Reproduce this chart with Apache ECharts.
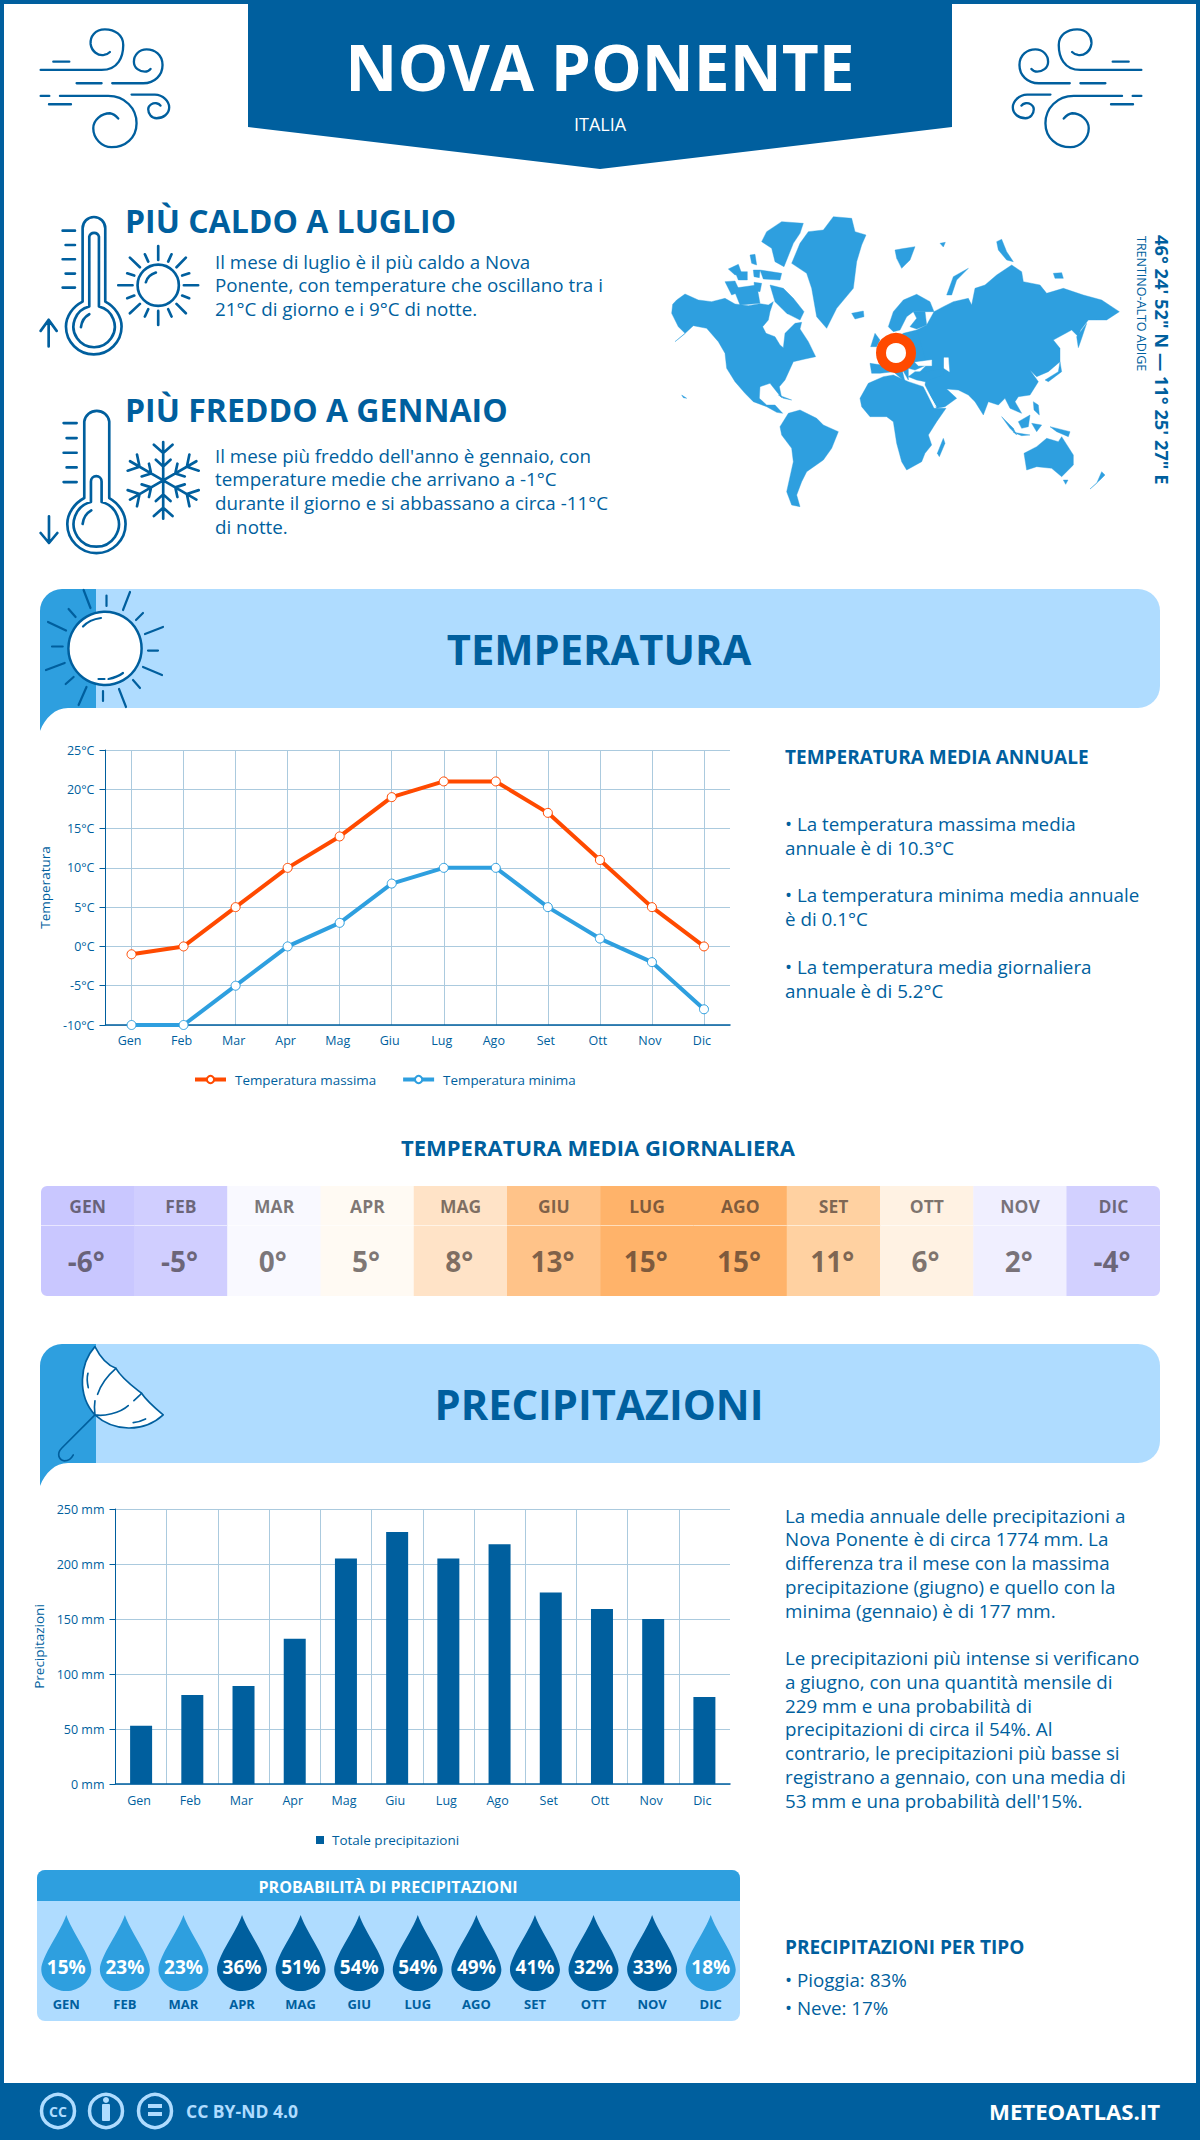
<!DOCTYPE html>
<html>
<head>
<meta charset="utf-8">
<title>Nova Ponente</title>
<script src="https://cdn.jsdelivr.net/npm/echarts@6/dist/echarts.min.js"></script>
<style>
	html, body { margin: 0; padding: 0; background: #fff; }
	#main { width: 1200px; height: 2140px; }
</style>
</head>
<body>
<div id="main"></div>
<script>
'use strict';
var months = ['Gen', 'Feb', 'Mar', 'Apr', 'Mag', 'Giu', 'Lug', 'Ago', 'Set', 'Ott', 'Nov', 'Dic'];
var monthsUpper = ['GEN', 'FEB', 'MAR', 'APR', 'MAG', 'GIU', 'LUG', 'AGO', 'SET', 'OTT', 'NOV', 'DIC'];
var tempMax = [-1, 0, 5, 10, 14, 19, 21, 21, 17, 11, 5, 0];
var tempMin = [-10, -10, -5, 0, 3, 8, 10, 10, 5, 1, -2, -8];
var tempDaily = [-6, -5, 0, 5, 8, 13, 15, 15, 11, 6, 2, -4];
var precipitation = [53, 81, 89, 132, 205, 229, 205, 218, 174, 159, 150, 79];
var rainChance = [15, 23, 23, 36, 51, 54, 54, 49, 41, 32, 33, 18];

var hotText = ['Il mese di luglio è il più caldo a Nova', 'Ponente, con temperature che oscillano tra i', '21°C di giorno e i 9°C di notte.'];
var coldText = ['Il mese più freddo dell\'anno è gennaio, con', 'temperature medie che arrivano a -1°C', 'durante il giorno e si abbassano a circa -11°C', 'di notte.'];
var tempNotes = ['• La temperatura massima media', 'annuale è di 10.3°C', '• La temperatura minima media annuale', 'è di 0.1°C', '• La temperatura media giornaliera', 'annuale è di 5.2°C'];
var tempNotesY = [824, 848, 895, 919, 967, 991];
var rainNotes = ['La media annuale delle precipitazioni a', 'Nova Ponente è di circa 1774 mm. La', 'differenza tra il mese con la massima', 'precipitazione (giugno) e quello con la', 'minima (gennaio) è di 177 mm.', 'Le precipitazioni più intense si verificano', 'a giugno, con una quantità mensile di', '229 mm e una probabilità di', 'precipitazioni di circa il 54%. Al', 'contrario, le precipitazioni più basse si', 'registrano a gennaio, con una media di', '53 mm e una probabilità dell\'15%.'];
var rainNotesY = [1516, 1539, 1563, 1587, 1611, 1658, 1682, 1706, 1729, 1753, 1777, 1801];

var DARK = '#005f9e', MID = '#2e9fdf', LIGHT = '#afdcff', HOT = '#ff4a00', GRID = '#abcade';
var FONT = '"Open Sans", sans-serif';

// colours of the daily temperature strip, by value
var stripPieces = [
	{value: -6, color: '#c9c7ff'}, {value: -5, color: '#d0ceff'}, {value: -4, color: '#d2d0ff'},
	{value: 0, color: '#f9f9ff'}, {value: 2, color: '#f0efff'}, {value: 5, color: '#fffaf3'},
	{value: 6, color: '#fff2e3'}, {value: 8, color: '#ffe3c7'}, {value: 11, color: '#ffd1a1'},
	{value: 13, color: '#ffc389'}, {value: 15, color: '#ffb36a'}
];

var DROP = 'path://M25,0 C30,18 50,48 50,63 C50,76 38,88 25,88 C12,88 0,76 0,63 C0,48 20,18 25,0 Z';

var graphics = [];
var shapeCount = 0;

// the graphic component has no plain path type, so each outline gets its own shape class
function pathType(d) {
	var name = 'trace' + (shapeCount++);
	echarts.graphic.registerShape(name, echarts.graphic.extendPath(d));
	return name;
}

function text(str, x, y, size, opt) {
	opt = opt || {};
	graphics.push({
		type: 'text', x: x, y: y, rotation: opt.rotation || 0, z: 5,
		style: {
			text: str,
			font: (opt.weight || 'normal') + ' ' + size + 'px ' + FONT,
			fill: opt.fill || DARK,
			textAlign: opt.align || 'left',
			textVerticalAlign: 'middle'
		}
	});
}

function block(x, y, w, h, fill, r) {
	graphics.push({type: 'rect', z: 1, shape: {x: x, y: y, width: w, height: h, r: r || 0}, style: {fill: fill}});
}

function area(d, fill) {
	graphics.push({type: pathType(d), z: 1, style: {fill: fill}});
}

// icon traced in the coordinates of a 3x crop, ox/oy is the crop corner
function icon(d, ox, oy, opt) {
	opt = opt || {};
	graphics.push({
		type: pathType(d), x: ox, y: oy, scaleX: opt.sx || 1 / 3, scaleY: opt.sy || 1 / 3, z: opt.z || 3,
		style: {
			fill: opt.fill || 'none',
			stroke: opt.stroke === undefined ? DARK : opt.stroke,
			lineWidth: opt.lw || 8,
			lineCap: 'round', lineJoin: 'round'
		}
	});
}

function snowflake(cx, cy) {
	var arm = [[0, -115, 0, 0], [-28, -107, 0, -82], [28, -107, 0, -82], [-22, -62, 0, -42], [22, -62, 0, -42]];
	var d = '';
	for (var k = 0; k < 6; k++) {
		var c = Math.cos(k * Math.PI / 3), s = Math.sin(k * Math.PI / 3);
		arm.forEach(function (a) {
			d += 'M' + (cx + a[0] * c - a[1] * s) + ',' + (cy + a[0] * s + a[1] * c) +
				' L' + (cx + a[2] * c - a[3] * s) + ',' + (cy + a[2] * s + a[3] * c) + ' ';
		});
	}
	return d;
}

// page frame, footer and header
block(0, 0, 1200, 4, DARK);
block(0, 0, 4, 2140, DARK);
block(1196, 0, 4, 2140, DARK);
block(0, 2083, 1200, 57, DARK);
area('M248,0 H952 V127 L600,169 L248,127 Z', DARK);

text('NOVA PONENTE', 600, 66, 64, {weight: 'bold', fill: '#fff', align: 'center'});
text('ITALIA', 600, 124, 18, {fill: '#fff', align: 'center'});

var WIND = 'M32,150 H215 C265,150 280,110 280,75 C280,45 255,28 225,28 C195,28 180,50 182,72 C185,95 205,108 222,105 C232,103 238,98 240,96 ' +
	'M70,125 H118 M140,190 H215 M247,190 H340 C375,190 398,165 398,135 C398,105 375,88 350,88 C328,88 312,105 312,125 C312,145 330,155 345,155 C352,155 358,152 362,147 ' +
	'M32,228 H58 M90,228 H235 C285,228 320,265 320,310 C320,355 285,382 245,382 C215,382 190,355 190,325 C190,300 215,280 240,280 C252,282 260,290 265,296 ' +
	'M57,253 H123 M305,224 H375 C400,224 418,245 418,262 C418,282 400,295 380,295 C365,295 355,282 355,268 C355,255 370,248 380,250 C386,251 390,254 392,257';
icon(WIND, 30, 20, {lw: 7});
icon(WIND, 1152, 20, {lw: 7, sx: -1 / 3});

// hot and cold summaries
var CROP_X = 30, CROP_Y = 205;
icon('M158,290 V70 A34,34 0 0 1 226,70 V290 C255,305 275,335 275,365 A83,83 0 1 1 108,365 C108,335 128,305 158,290 Z ' +
	'M178,305 V95 A15,15 0 0 1 207,95 V305 A62,62 0 1 1 178,305 Z M153,367 C155,350 165,335 178,328 ' +
	'M98,77 H135 M107,120 H135 M98,163 H135 M107,206 H135 M98,248 H135 M56,425 V345 M32,378 L56,345 L80,378', CROP_X, CROP_Y);
icon('M447,241 A62,62 0 1 1 323,241 A62,62 0 1 1 447,241 Z M348,232 C352,218 365,207 378,203 ' +
	'M385,123 V165 M385,318 V360 M265,241 H308 M462,241 H505 M300,158 L330,187 M468,158 L440,187 M300,325 L330,297 M468,325 L440,297 ' +
	'M345,148 L355,170 M425,148 L415,170 M292,205 L313,212 M478,205 L457,212 M292,280 L313,272 M478,280 L457,272 M345,335 L355,313 M425,335 L415,313', CROP_X, CROP_Y);
icon('M163,880 V650 A38,38 0 0 1 238,650 V880 C265,895 287,925 287,958 A87,87 0 1 1 112,958 C112,925 135,895 163,880 Z ' +
	'M183,892 V830 A16,16 0 0 1 215,830 V892 A68,68 0 1 1 183,892 Z M158,958 C160,940 170,925 184,917 ' +
	'M101,655 H140 M110,700 H140 M101,744 H140 M110,788 H140 M101,832 H140 M57,1015 V935 M32,985 L57,1015 L82,985', CROP_X, CROP_Y);
icon(snowflake(400, 827), CROP_X, CROP_Y);

text('PIÙ CALDO A LUGLIO', 125, 220, 32, {weight: 'bold'});
text('PIÙ FREDDO A GENNAIO', 125, 409, 32, {weight: 'bold'});
hotText.forEach(function (s, i) { text(s, 215, [262, 285, 309][i], 18.8); });
coldText.forEach(function (s, i) { text(s, 215, [456, 479, 503, 527][i], 18.8); });

// world map outlines, x,y pairs in 3x crop coordinates of the map area
var LAND = [
	'38,298 50,285 75,267 115,285 155,290 195,280 225,297 265,302 300,296 325,300 340,290 330,320 325,345 308,365 318,385 345,395 360,420 370,428 375,385 405,355 425,352 420,372 445,410 467,455 435,462 400,470 375,525 358,545 365,578 350,560 330,535 300,545 298,580 320,600 345,600 368,625 350,622 320,605 280,590 255,565 225,530 200,490 195,445 175,410 140,370 100,362 70,390 45,410 75,385 55,365 35,325',
	'320,80 365,50 430,55 420,85 400,115 372,185 345,170 335,130 305,110',
	'330,240 370,250 400,280 432,320 420,345 380,325 345,290',
	'205,192 235,178 245,205 225,210', '225,200 262,200 262,225 235,225', '195,230 225,228 240,260 215,270',
	'220,250 290,240 300,295 240,300', '280,195 300,195 298,218 282,215', '300,195 365,205 360,225 310,222',
	'270,150 285,148 290,180 275,175', '282,232 305,235 300,260 285,258',
	'395,175 420,115 445,80 490,75 520,35 575,40 585,80 618,90 605,120 590,170 580,250 530,310 500,370 470,335 455,250 440,205',
	'575,325 610,318 612,335 585,342',
	'705,135 735,130 765,125 750,165 725,190 710,160', '840,115 856,112 850,126',
	'860,270 880,215 925,190 890,225 875,270', '1010,110 1025,103 1040,140 1060,170 1040,165 1015,135', '1180,205 1205,203 1210,220 1185,220',
	// Asia and eastern Europe
	'822,320 850,305 880,290 925,280 935,300 945,250 975,240 1010,210 1055,180 1085,200 1090,230 1140,240 1160,265 1210,250 1270,270 1325,285 1378,320 1340,345 1310,345 1285,345 1262,375 1255,395 1235,375 1180,405 1200,430 1200,470 1165,500 1130,515 1110,495 1135,530 1110,570 1075,575 1065,590 1085,625 1050,610 1035,580 1015,600 985,590 970,630 945,590 925,570 895,555 860,552 890,580 855,605 830,610 795,540 800,505 780,500 800,480 760,480 770,440 760,400 770,375 800,360',
	// Scandinavia, Finland, western Europe, Turkey
	'685,365 700,320 730,285 770,268 810,290 822,320 795,320 760,320 740,335 720,375 700,380',
	'760,320 795,320 800,360 770,372 750,365 770,340',
	'630,475 665,480 650,450 680,420 730,385 770,375 790,440 800,480 765,495 745,490 745,525 725,490 735,530 700,500 660,505 635,505',
	'745,515 765,500 800,500 855,490 850,510 795,530 770,525',
	'600,580 625,535 670,515 700,510 745,530 790,545 822,610 858,610 830,650 805,690 815,720 795,745 785,770 740,795 725,770 710,715 700,650 680,635 630,635 605,605',
	'832,745 850,700 855,715 838,755',
	'360,665 385,625 420,615 470,640 490,660 535,680 515,730 490,765 440,800 425,830 410,870 420,905 395,900 380,860 400,770 395,730 365,690',
	'1092,745 1130,725 1160,700 1195,710 1205,695 1240,750 1240,780 1205,815 1175,790 1130,785 1100,795', '1210,825 1224,825 1217,838',
	'1290,852 1320,825 1335,810 1325,800 1310,835',
	'1155,525 1195,500 1200,470 1205,500 1165,530', '1255,428 1250,395 1280,355 1265,400',
	'1025,635 1060,670 1070,690 1050,670', '1060,682 1110,690 1085,692', '1075,650 1110,630 1105,665 1085,670', '1115,655 1145,660 1130,680', '1170,665 1230,680 1225,695 1190,680', '1120,590 1135,600 1138,630 1122,615',
	'632,425 645,385 660,405 650,425', '355,570 395,585 370,580', '65,570 80,580 70,578'
];
var SEAS = ['765,472 815,465 815,482 775,482', '852,458 865,458 868,500 852,490'];

function mapPolygon(pairs, fill) {
	var points = pairs.split(' ').map(function (p) {
		var xy = p.split(',');
		return [660 + xy[0] / 3, 205 + xy[1] / 3];
	});
	graphics.push({type: 'polygon', z: 2, shape: {points: points}, style: {fill: fill, stroke: fill, lineWidth: 0.4}});
}
LAND.forEach(function (s) { mapPolygon(s, MID); });
SEAS.forEach(function (s) { mapPolygon(s, '#fff'); });
graphics.push({type: 'line', z: 2, shape: {x1: 923.3, y1: 385, x2: 936, y2: 406.7}, style: {stroke: '#fff', lineWidth: 1}});
graphics.push({type: 'circle', z: 3, shape: {cx: 896, cy: 353, r: 15}, style: {fill: '#fff', stroke: HOT, lineWidth: 10}});

text('46° 24\' 52" N — 11° 25\' 27" E', 1162, 235, 18.3, {weight: 'bold', rotation: -Math.PI / 2});
text('TRENTINO-ALTO ADIGE', 1141, 236, 12.5, {rotation: -Math.PI / 2});

// section banners
function banner(top, title) {
	var bot = top + 119, tail = top + 142;
	area('M96,' + top + ' H1138 A22,22 0 0 1 1160,' + (top + 22) + ' V' + (bot - 22) + ' A22,22 0 0 1 1138,' + bot + ' H96 Z', LIGHT);
	area('M40,' + tail + ' V' + (top + 22) + ' A22,22 0 0 1 62,' + top + ' H96 V' + bot + ' H68 C55,' + bot + ' 45,' + (bot + 10) + ' 40,' + tail + ' Z', MID);
	text(title, 599, top + 59, 41.7, {weight: 'bold', align: 'center'});
}
banner(589, 'TEMPERATURA');
banner(1344, 'PRECIPITAZIONI');

// sun on the temperature banner, page coordinates
graphics.push({type: 'circle', z: 3, shape: {cx: 105, cy: 648.4, r: 36.6}, style: {fill: '#fff', stroke: DARK, lineWidth: 2.5}});
icon('M83,626.5 C88,621 94,619 101,618 M98.5,679 H104.5 M108.5,679 C114,678 119,676 123,673 ' +
	'M83.6,590 L90.5,608 M106.5,595.5 V606 M130,592 L123,610 M143,613 L136,620 M163,627 L145,634 M148,650.6 H158 ' +
	'M143,667 L162,675 M133,680 L140,688 M119,689 L126,707 M103,691 V701 M86.5,687 L78.6,705 M73.6,677 L65.7,684 ' +
	'M64.7,663 L46,670 M62.7,646.5 H52 M66,630.6 L48,622 M75.6,617 L68.6,609', 0, 0, {lw: 2.2, z: 4, sx: 1, sy: 1});

// umbrella on the rain banner
icon('M195,35 C150,85 140,180 195,240 C250,290 340,295 400,240 C370,215 345,190 335,175 C310,155 275,130 258,100 C230,90 210,65 195,35 Z', 30, 1335, {fill: '#fff', lw: 5});
icon('M174,115 C170,130 172,145 175,158 M258,100 C235,120 212,150 203,178 M195,198 C193,210 193,225 195,240 C220,245 270,235 295,212 M312,197 C320,190 328,183 335,175 M310,263 C325,262 335,258 347,252 ' +
	'M195,240 L95,340 C80,355 85,375 103,378 C115,378 125,370 130,360', 30, 1335, {lw: 5});

// side notes and small titles
text('TEMPERATURA MEDIA ANNUALE', 785, 757, 19, {weight: 'bold'});
tempNotes.forEach(function (s, i) { text(s, 785, tempNotesY[i], 18.8); });
text('TEMPERATURA MEDIA GIORNALIERA', 598, 1147, 22, {weight: 'bold', align: 'center'});
rainNotes.forEach(function (s, i) { text(s, 785, rainNotesY[i], 18.8); });
text('PRECIPITAZIONI PER TIPO', 785, 1947, 19, {weight: 'bold'});
text('• Pioggia: 83%', 785, 1980, 18.8);
text('• Neve: 17%', 785, 2008, 18.8);

// rounded frame over the temperature strip corners
graphics.push({type: 'rect', z: 6, shape: {x: 38, y: 1183, width: 1125, height: 116, r: 9}, style: {fill: 'none', stroke: '#fff', lineWidth: 6}});

// rain chance panel
graphics.push({type: 'rect', z: 1, shape: {x: 37, y: 1870, width: 703, height: 151, r: 8}, style: {fill: LIGHT}});
graphics.push({type: 'rect', z: 1, shape: {x: 37, y: 1870, width: 703, height: 31, r: [8, 8, 0, 0]}, style: {fill: MID}});
text('PROBABILITÀ DI PRECIPITAZIONI', 388, 1887, 16.1, {weight: 'bold', fill: '#fff', align: 'center'});

// footer
[58, 106, 155].forEach(function (cx) {
	graphics.push({type: 'circle', z: 3, shape: {cx: cx, cy: 2111, r: 16.5}, style: {fill: 'none', stroke: LIGHT, lineWidth: 3.5}});
});
text('CC', 58, 2111, 14, {weight: 'bold', fill: LIGHT, align: 'center'});
graphics.push({type: 'circle', z: 3, shape: {cx: 106, cy: 2100, r: 3}, style: {fill: LIGHT}});
graphics.push({type: 'rect', z: 3, shape: {x: 102, y: 2104, width: 8, height: 17, r: 1}, style: {fill: LIGHT}});
graphics.push({type: 'rect', z: 3, shape: {x: 148, y: 2104, width: 14, height: 4}, style: {fill: LIGHT}});
graphics.push({type: 'rect', z: 3, shape: {x: 148, y: 2112, width: 14, height: 4}, style: {fill: LIGHT}});
text('CC BY-ND 4.0', 186, 2111, 17.5, {weight: 'bold', fill: LIGHT});
text('METEOATLAS.IT', 989, 2111, 22.2, {weight: 'bold', fill: '#fff'});

function stripData() {
	return tempDaily.map(function (v, i) { return [i, 0, v]; });
}

function labelAxis(name, gap) {
	return {
		name: name, nameLocation: 'middle', nameGap: gap, nameRotate: 90,
		nameTextStyle: {color: DARK, fontSize: 13.5, fontFamily: FONT}
	};
}

var axisText = {color: DARK, fontSize: 12.5, fontFamily: FONT};

var option = {
	animation: false,
	graphic: {elements: graphics},
	textStyle: {fontFamily: FONT},
	grid: [
		{left: 105.5, top: 750, width: 624.5, height: 275},
		{left: 115.5, top: 1509, width: 614.5, height: 275},
		{left: 41, top: 1186, width: 1119, height: 39},
		{left: 41, top: 1226, width: 1119, height: 70},
		{left: 37, top: 1915, width: 703, height: 76}
	],
	xAxis: [
		{
			gridIndex: 0, type: 'category', data: months,
			axisLine: {onZero: false, lineStyle: {color: DARK, width: 1.5}}, axisTick: {show: false},
			axisLabel: Object.assign({margin: 9, padding: [0, 4, 0, 0]}, axisText),
			splitLine: {show: true, alignWithLabel: true, lineStyle: {color: GRID}}
		},
		{
			gridIndex: 1, type: 'category', data: months,
			axisLine: {lineStyle: {color: DARK, width: 1.5}}, axisTick: {show: false},
			axisLabel: Object.assign({margin: 10, padding: [0, 4, 0, 0]}, axisText),
			splitLine: {show: true, showMinLine: false, showMaxLine: false, lineStyle: {color: GRID}}
		},
		{gridIndex: 2, type: 'category', data: monthsUpper, show: false},
		{gridIndex: 3, type: 'category', data: monthsUpper, show: false},
		{
			gridIndex: 4, type: 'category', data: monthsUpper, z: 5,
			axisLine: {show: false}, axisTick: {show: false},
			axisLabel: {margin: 6, color: DARK, fontSize: 13, fontWeight: 'bold', fontFamily: FONT}
		}
	],
	yAxis: [
		Object.assign({
			gridIndex: 0, type: 'value', min: -10, max: 25, interval: 5,
			axisLine: {show: true, lineStyle: {color: DARK}}, axisTick: {show: true, length: 6, lineStyle: {color: DARK}},
			axisLabel: Object.assign({margin: 11, formatter: '{value}°C'}, axisText),
			splitLine: {lineStyle: {color: GRID}}
		}, labelAxis('Temperatura', 54)),
		Object.assign({
			gridIndex: 1, type: 'value', min: 0, max: 250, interval: 50,
			axisLine: {show: true, lineStyle: {color: DARK}}, axisTick: {show: true, length: 6, lineStyle: {color: DARK}},
			axisLabel: Object.assign({margin: 11, formatter: '{value} mm'}, axisText),
			splitLine: {lineStyle: {color: GRID}}
		}, labelAxis('Precipitazioni', 64)),
		{gridIndex: 2, type: 'category', data: [''], show: false},
		{gridIndex: 3, type: 'category', data: [''], show: false},
		{gridIndex: 4, type: 'category', data: [''], show: false}
	],
	legend: [
		{
			data: ['Temperatura massima', 'Temperatura minima'], left: 188, top: 1068,
			itemWidth: 31, itemHeight: 9, itemGap: 25, lineStyle: {width: 4},
			textStyle: {color: DARK, fontSize: 13.4, fontFamily: FONT, padding: [0, 0, 0, 4]}
		},
		{
			data: ['Totale precipitazioni'], left: 311, top: 1828,
			itemWidth: 8, itemHeight: 8, icon: 'rect',
			textStyle: {color: DARK, fontSize: 13.5, fontFamily: FONT, padding: [0, 0, 0, 3]}
		}
	],
	visualMap: [
		{type: 'piecewise', show: false, seriesIndex: [3, 4], dimension: 2, pieces: stripPieces},
		{
			type: 'piecewise', show: false, seriesIndex: 5, dimension: 2,
			pieces: [{lt: 30, color: MID}, {gte: 30, color: DARK}]
		}
	],
	series: [
		{
			name: 'Temperatura massima', type: 'line', xAxisIndex: 0, yAxisIndex: 0, data: tempMax,
			symbol: 'circle', symbolSize: 9, showAllSymbol: true, clip: false,
			lineStyle: {color: HOT, width: 4},
			itemStyle: {color: '#fff', borderColor: HOT, borderWidth: 1}
		},
		{
			name: 'Temperatura minima', type: 'line', xAxisIndex: 0, yAxisIndex: 0, data: tempMin,
			symbol: 'circle', symbolSize: 9, showAllSymbol: true, clip: false,
			lineStyle: {color: MID, width: 4},
			itemStyle: {color: '#fff', borderColor: MID, borderWidth: 1}
		},
		{
			name: 'Totale precipitazioni', type: 'bar', xAxisIndex: 1, yAxisIndex: 1, data: precipitation,
			barWidth: 22, itemStyle: {color: DARK}
		},
		{
			type: 'heatmap', xAxisIndex: 2, yAxisIndex: 2, data: stripData(),
			label: {
				show: true, color: 'rgba(40,30,30,0.6)', fontSize: 17.5, fontWeight: 'bold', fontFamily: FONT,
				formatter: function (p) { return monthsUpper[p.data[0]]; }
			}
		},
		{
			type: 'heatmap', xAxisIndex: 3, yAxisIndex: 3, data: stripData(),
			label: {
				show: true, color: 'rgba(40,30,30,0.6)', fontSize: 28, fontWeight: 'bold', fontFamily: FONT, offset: [-1.5, 0],
				formatter: function (p) { return p.data[2] + '°'; }
			}
		},
		{
			type: 'scatter', xAxisIndex: 4, yAxisIndex: 4,
			data: rainChance.map(function (v, i) { return [i, 0, v]; }),
			symbol: DROP, symbolSize: [50, 76], symbolKeepAspect: false,
			itemStyle: {opacity: 1},
			label: {
				show: true, position: 'inside', offset: [0, 14], color: '#fff', fontSize: 19, fontWeight: 'bold', fontFamily: FONT,
				formatter: function (p) { return p.data[2] + '%'; }
			}
		}
	]
};

var chart = echarts.init(document.getElementById('main'), null, {renderer: 'svg'});
chart.setOption(option);
</script>
</body>
</html>
